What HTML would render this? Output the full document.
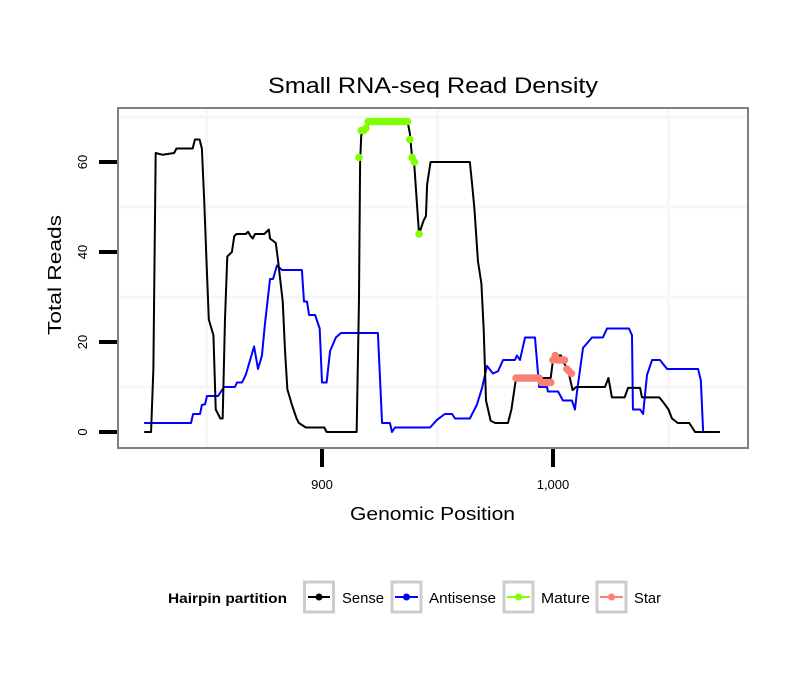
<!DOCTYPE html>
<html><head><meta charset="utf-8"><style>
body{margin:0;background:#fff}
svg text{font-family:"Liberation Sans",sans-serif}
</style></head><body>
<svg id="chart" width="810" height="690" viewBox="0 0 810 690" xmlns="http://www.w3.org/2000/svg">
<rect width="810" height="690" fill="#fff"/>
<text x="268" y="93" font-size="22" textLength="330" lengthAdjust="spacingAndGlyphs">Small RNA-seq Read Density</text>
<g id="grid"></g>
<g id="series"></g>
<rect x="118" y="108" width="630" height="340" fill="none" stroke="#808080" stroke-width="2"/>
<g id="axes"></g>
<text x="350" y="520" font-size="18" textLength="165" lengthAdjust="spacingAndGlyphs">Genomic Position</text>
<text transform="translate(61,335) rotate(-90)" font-size="18" textLength="120" lengthAdjust="spacingAndGlyphs">Total Reads</text>
<g>
<text x="168" y="603" font-size="14" font-weight="bold" textLength="119" lengthAdjust="spacingAndGlyphs">Hairpin partition</text>
<g><rect x="304.5" y="582" width="29" height="30" fill="#fff" stroke="#ccc" stroke-width="3"/><line x1="308" y1="597" x2="330" y2="597" stroke="#000" stroke-width="2"/><circle cx="319" cy="597" r="3.5" fill="#000"/><text x="342" y="603" font-size="15" textLength="42" lengthAdjust="spacingAndGlyphs">Sense</text></g>
<g><rect x="392" y="582" width="29" height="30" fill="#fff" stroke="#ccc" stroke-width="3"/><line x1="395" y1="597" x2="418" y2="597" stroke="#00f" stroke-width="2"/><circle cx="406.5" cy="597" r="3.5" fill="#00f"/><text x="429" y="603" font-size="15" textLength="67" lengthAdjust="spacingAndGlyphs">Antisense</text></g>
<g><rect x="504" y="582" width="29" height="30" fill="#fff" stroke="#ccc" stroke-width="3"/><line x1="507" y1="597" x2="530" y2="597" stroke="#7fff00" stroke-width="2"/><circle cx="518.5" cy="597" r="3.5" fill="#7fff00"/><text x="541" y="603" font-size="15" textLength="49" lengthAdjust="spacingAndGlyphs">Mature</text></g>
<g><rect x="597" y="582" width="29" height="30" fill="#fff" stroke="#ccc" stroke-width="3"/><line x1="600" y1="597" x2="623" y2="597" stroke="#fa8072" stroke-width="2"/><circle cx="611.5" cy="597" r="3.5" fill="#fa8072"/><text x="634" y="603" font-size="15" textLength="27" lengthAdjust="spacingAndGlyphs">Star</text></g>
</g>
</svg>
<script>
const senseX=[823,826,827,828,831,836,837,844,845,847,848,849,850,851,853,854,856,857,858,859,861,862,863,867,868,869,870,871,875,877,877.5,880,881,883,884,885,887,889,890,893,901,902,915,916,916.5,917,918,921,937,938,939,940,942,944,945,945.5,947,964,965,966,967.5,969,970,971,973,975,980.5,982,984,999,1000,1001,1003.5,1004,1006.5,1008.5,1010,1022.5,1024,1025.5,1027,1031,1032.5,1037.7,1038.5,1046,1047.6,1050,1051.5,1054,1059,1061.5,1072];
const senseY=[0,0,14,62,61.6,62,63,63,65,65,63,51.5,38,25,21.5,5,3,3,25,39,40,43.5,44,44,44.5,43.6,43,44,44,45,43,42,38,29,18,9.5,6,3,2,1,1,0,0,29,60,66,67,69,69,66.5,61,59,44,47,48,55,60,60,55,49.5,38,33,22.7,7,2.5,2,2,5,12,12,16,17,17,16,13.8,9.3,10,10,12,7.7,7.7,7.7,9.8,9.8,7.7,7.7,6.7,5,3,2,2,0,0];
const antiX=[823,843.3,844.2,847.2,848,849.4,850.2,855,857.6,862.3,863.2,865.4,867,870.6,872.3,874,875.3,877.5,878.8,880.5,882.7,891.3,892.2,893.5,894.4,897,899,900,902,903.5,906,908.2,924.2,926,929.4,930.3,931.6,946.8,949.8,953.2,956.3,957.6,964,967,969.3,971.4,974,976.2,978.4,983.5,984.4,985.7,987.9,992.2,994,997.4,997.8,1002.2,1004.3,1008.2,1009.5,1010.4,1013,1015.2,1016.9,1021.6,1023.4,1032.9,1034.2,1034.6,1037.7,1039,1040.7,1042.9,1046.3,1049.4,1062.8,1064,1065,1072.3];
const antiY=[2,2,4,4,6,6.2,8,8,10,10,11,11,12.7,19,14,17,24,34,34,37,36,36,29,29,26,26,23,11,11,18,21,22,22,2,2,0,1,1,2.7,4,4,3,3,6,9.8,14.7,13,13.5,16,16,17,16,21,21,10,10,9,9,7,7,5,9,18.7,20,21,21,23,23,21.5,5,5,4,12.7,16,16,14,14,11.5,0,0];
const matureX=[916,917,918,919,920,921,922,923,924,925,926,927,928,929,930,931,932,933,934,935,936,937,938,939,940,942];
const matureY=[61,67,67,67.5,69,69,69,69,69,69,69,69,69,69,69,69,69,69,69,69,69,69,65,61,60,44];
const starX=[984,985,986,987,988,989,990,991,992,993,994,995,996,997,998,999,1000,1001,1002,1003,1004,1005,1006,1007,1008];
const starY=[12,12,12,12,12,12,12,12,12,12,12,11,11,11,11,11,16,17,16,16,16,16,14,13.5,13];
const xTicks=[900,1000];
const xTickLabels=["900","1,000"];
const yTicks=[0,20,40,60];
const yTickLabels=["0","20","40","60"];
const xMinor=[850,950,1050];
const yMinor=[10,30,50,70];

const NS="http://www.w3.org/2000/svg";
const X=v=>322+(v-900)*2.31;
const Y=v=>432-v*4.5;
function mk(tag,attrs,parent){const e=document.createElementNS(NS,tag);for(const k in attrs)e.setAttribute(k,attrs[k]);parent.appendChild(e);return e;}
const grid=document.getElementById('grid'),series=document.getElementById('series'),axes=document.getElementById('axes');
xMinor.forEach(v=>{const l=mk('line',{x1:X(v),x2:X(v),y1:109,y2:447,stroke:'#f7f7f7','stroke-width':3},grid);

});
yMinor.forEach(v=>{const l=mk('line',{x1:119,x2:747,y1:Y(v),y2:Y(v),stroke:'#f7f7f7','stroke-width':3},grid);

});
function line(xs,ys,color,name){const p=mk('polyline',{points:xs.map((x,i)=>X(x)+','+Y(ys[i])).join(' '),fill:'none',stroke:color,'stroke-width':2,'stroke-linejoin':'round'},series);

}
function pts(xs,ys,color,name){xs.forEach((x,i)=>{const c=mk('circle',{cx:X(x),cy:Y(ys[i]),r:3.8,fill:color},series);

});}
line(antiX,antiY,'#0000ff','antisense-line');
line(senseX,senseY,'#000000','sense-line');
pts(matureX,matureY,'#7fff00','mature-point');
pts(starX,starY,'#fa8072','star-point');
xTicks.forEach((v,i)=>{const t=mk('line',{x1:X(v),x2:X(v),y1:449,y2:467,stroke:'#000','stroke-width':4},axes);


const tx=mk('text',{x:X(v),y:489,'font-size':13,'text-anchor':'middle'},axes);tx.textContent=xTickLabels[i];

});
yTicks.forEach((v,i)=>{const t=mk('line',{x1:99,x2:117,y1:Y(v),y2:Y(v),stroke:'#000','stroke-width':4},axes);


const tx=mk('text',{transform:`translate(87,${Y(v)}) rotate(-90)`,'font-size':13,'text-anchor':'middle'},axes);tx.textContent=yTickLabels[i];

});
</script>
</body></html>
